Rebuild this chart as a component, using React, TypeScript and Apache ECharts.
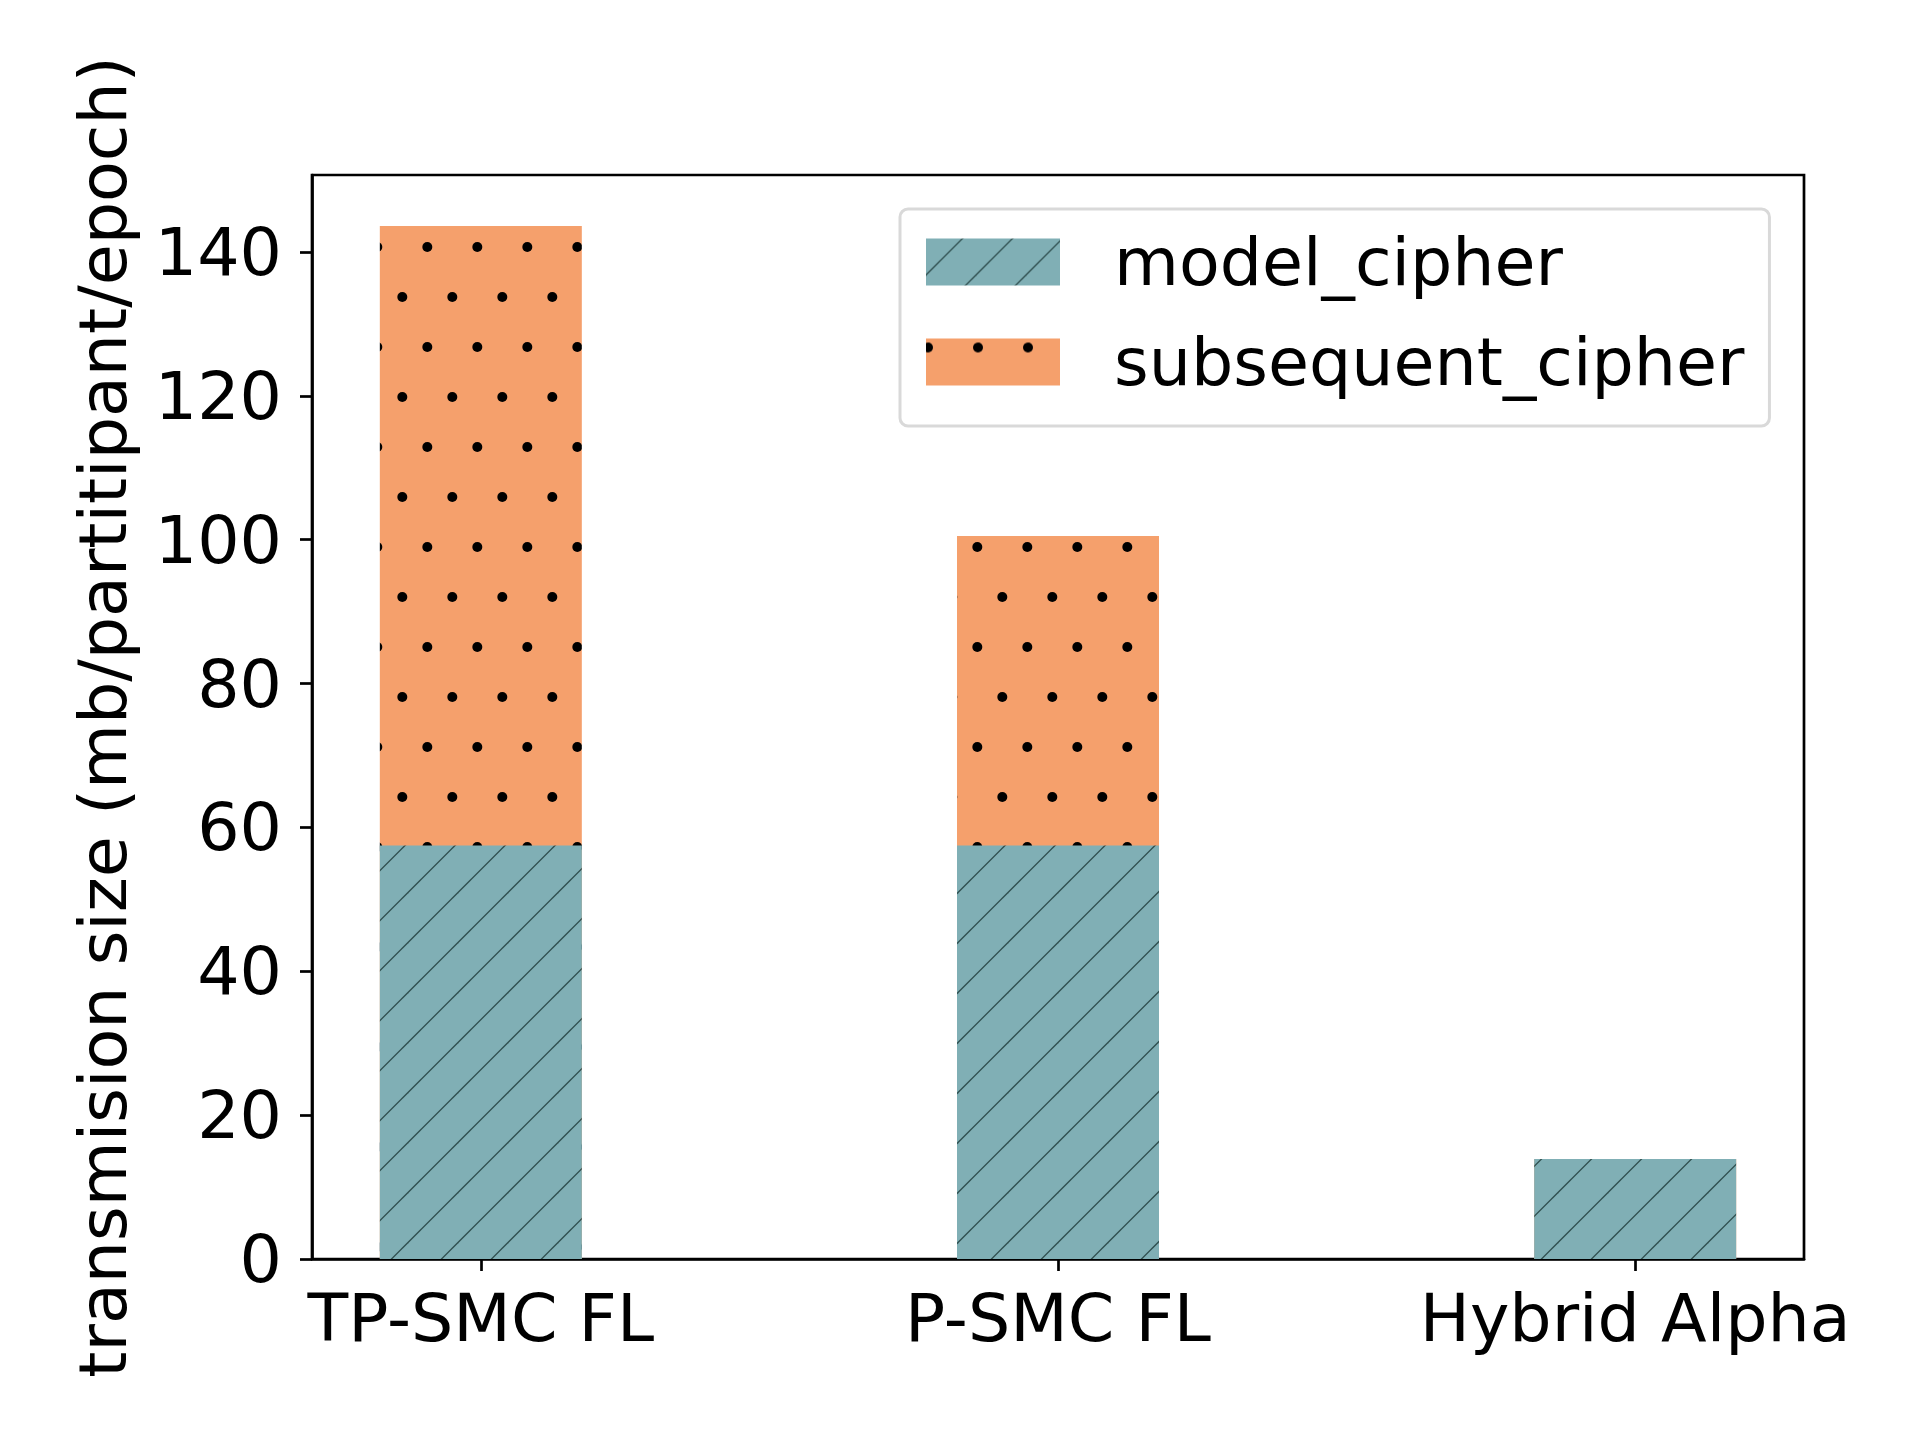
import React, { useEffect, useRef } from "react";
import * as echarts from "echarts";

const categories = ["TP-SMC FL", "P-SMC FL", "Hybrid Alpha"];
const seriesNames = ["model_cipher", "subsequent_cipher"];
const modelCipher = [57.5, 57.5, 13.9];
const subsequentCipher = [86.1, 43.0, 0];
const yTicks = [0, 20, 40, 60, 80, 100, 120, 140];
const xPositions = [0, 1, 2];

const FONT = "DejaVu Sans";
const FS = 66.67;
const TEAL = "#80AFB5";
const ORANGE = "#F5A06C";

function svgUrl(svg: string) {
  return "data:image/svg+xml;charset=utf-8," + encodeURIComponent(svg);
}

function hatchPattern(phase: number) {
  const cs = [phase - 50, phase, phase + 50];
  const lines = cs
    .map(
      (c) =>
        `<line x1="-10" y1="${c + 10}" x2="${c + 10}" y2="-10" stroke="#2F4F4F" stroke-width="1.3"/>`
    )
    .join("");
  const svg = `<svg xmlns="http://www.w3.org/2000/svg" width="50" height="50" viewBox="0 0 50 50"><rect width="50" height="50" fill="${TEAL}"/>${lines}</svg>`;
  return { image: svgUrl(svg), repeat: "repeat", imageWidth: 50, imageHeight: 50 };
}

function dotPattern(dx: number, dy: number) {
  const pts = [
    [dx, dy],
    [dx + 50, dy],
    [dx - 50, dy],
    [dx + 25, dy + 50],
    [dx - 25, dy + 50],
  ];
  const circles = pts
    .map(([x, y]) => `<circle cx="${x}" cy="${y}" r="5" fill="#000"/>`)
    .join("");
  const svg = `<svg xmlns="http://www.w3.org/2000/svg" width="50" height="100" viewBox="0 0 50 100"><rect width="50" height="100" fill="${ORANGE}"/>${circles}</svg>`;
  return { image: svgUrl(svg), repeat: "repeat", imageWidth: 50, imageHeight: 100 };
}

export default function App() {
  const ref = useRef<HTMLDivElement>(null);
  useEffect(() => {
    if (!ref.current) return;
    const chart = echarts.init(ref.current, null, { renderer: "svg" });
    const barHatch = hatchPattern(34.5);
    const barDots = dotPattern(19.3, 39);
    const legendHatch = hatchPattern(36.5);
    const legendDots = dotPattern(2, 9);
    const totals = modelCipher.map((m, i) => m + subsequentCipher[i]);
    chart.setOption({
      animation: false,
      backgroundColor: "#fff",
      grid: {
        left: 304,
        top: 167,
        width: 1492,
        height: 1084,
        show: true,
        borderColor: "#000",
        borderWidth: 2.7,
        backgroundColor: "transparent",
      },
      legend: {
        orient: "vertical",
        left: 892,
        top: 201,
        icon: "rect",
        itemWidth: 134,
        itemHeight: 47,
        itemGap: 20,
        padding: [13, 25, 24, 26],
        backgroundColor: "rgba(255,255,255,0.8)",
        borderColor: "#d9d9d9",
        borderWidth: 3,
        borderRadius: 8,
        textStyle: {
          fontFamily: FONT,
          fontSize: FS,
          color: "#000",
          lineHeight: 80,
          padding: [0, 0, 0, 49],
        },
        data: [
          { name: seriesNames[0], itemStyle: { color: legendHatch } },
          { name: seriesNames[1], itemStyle: { color: legendDots } },
        ],
      },
      xAxis: {
        type: "value",
        min: -0.2925,
        max: 2.2925,
        splitLine: { show: false },
        axisLine: { show: true, onZero: false, lineStyle: { color: "#000", width: 2.7 } },
        axisTick: {
          show: true,
          customValues: xPositions,
          length: 12,
          lineStyle: { color: "#000", width: 2.7 },
        },
        axisLabel: {
          customValues: xPositions,
          formatter: (v: number) => categories[Math.round(v)] ?? "",
          fontFamily: FONT,
          fontSize: FS,
          color: "#000",
          margin: 25,
        },
      },
      yAxis: {
        type: "value",
        min: 0,
        max: 150.7,
        interval: 20,
        name: "transmision size (mb/partitipant/epoch)",
        nameLocation: "middle",
        nameGap: 176,
        nameTextStyle: { fontFamily: FONT, fontSize: FS, color: "#000" },
        splitLine: { show: false },
        axisLine: { show: true, onZero: false, lineStyle: { color: "#000", width: 2.7 } },
        axisTick: {
          show: true,
          customValues: yTicks,
          length: 12,
          lineStyle: { color: "#000", width: 2.7 },
        },
        axisLabel: {
          customValues: yTicks,
          fontFamily: FONT,
          fontSize: FS,
          color: "#000",
          margin: 30,
        },
      },
      series: [
        {
          name: seriesNames[1],
          type: "bar",
          barWidth: 202,
          barGap: "-100%",
          itemStyle: { color: barDots, borderWidth: 0 },
          data: xPositions.map((x, i) => [x, totals[i]]),
        },
        {
          name: seriesNames[0],
          type: "bar",
          barWidth: 202,
          barGap: "-100%",
          itemStyle: { color: barHatch, borderWidth: 0 },
          data: xPositions.map((x, i) => [x, modelCipher[i]]),
        },
      ],
    });
    return () => chart.dispose();
  }, []);
  return <div ref={ref} style={{ width: 1905, height: 1422 }} />;
}
